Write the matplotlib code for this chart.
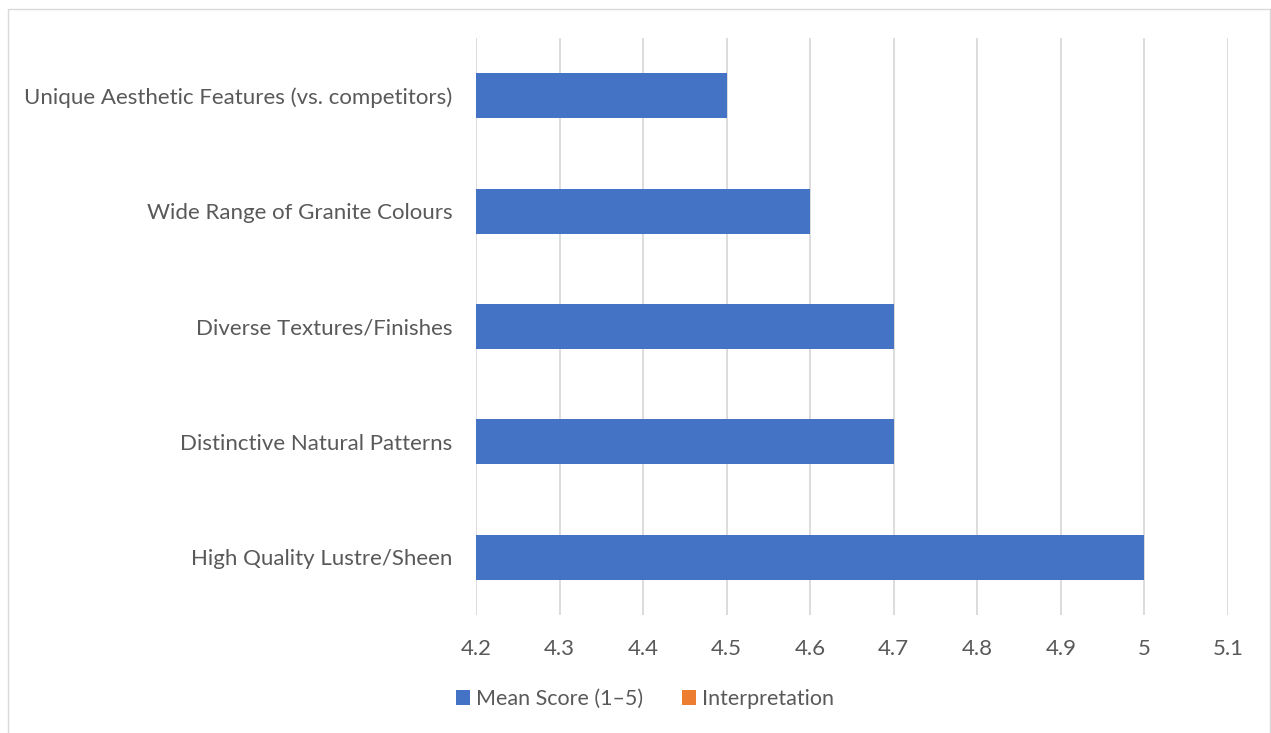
import matplotlib.pyplot as plt
from matplotlib.patches import Patch, Rectangle

categories = [
    "High Quality Lustre/Sheen",
    "Distinctive Natural Patterns",
    "Diverse Textures/Finishes",
    "Wide Range of Granite Colours",
    "Unique Aesthetic Features (vs. competitors)",
]
mean_scores = [5.0, 4.7, 4.7, 4.6, 4.5]
x_ticks = [4.2, 4.3, 4.4, 4.5, 4.6, 4.7, 4.8, 4.9, 5.0, 5.1]
x_tick_labels = ["4.2", "4.3", "4.4", "4.5", "4.6", "4.7", "4.8", "4.9", "5", "5.1"]
legend_labels = ["Mean Score (1\u20135)", "Interpretation"]

BLUE = "#4472C4"
ORANGE = "#ED7D31"
TEXT = "#595959"
GRID = "#D9D9D9"

plt.rcParams["font.family"] = ["Lato", "DejaVu Sans"]

W, H = 1271, 733
fig = plt.figure(figsize=(W / 100, H / 100), dpi=100)
ax = fig.add_axes([476 / W, 1 - 615 / H, (1228 - 476) / W, (615 - 38) / H])

ypos = list(range(len(categories)))
ax.barh(ypos, [v - x_ticks[0] for v in mean_scores], left=x_ticks[0], height=0.39, color=BLUE, zorder=3)

ax.set_xlim(x_ticks[0], x_ticks[-1])
ax.set_ylim(-0.5, len(categories) - 0.5)
ax.set_xticks(x_ticks)
ax.set_xticklabels(x_tick_labels)
ax.set_yticks(ypos)
ax.set_yticklabels(categories)
ax.tick_params(axis="both", length=0, labelsize=16, labelcolor=TEXT)
ax.tick_params(axis="x", pad=17)
ax.tick_params(axis="y", pad=17)
ax.grid(axis="x", color=GRID, linewidth=1.3, zorder=0)
for side in ax.spines.values():
    side.set_visible(False)

handles = [Patch(facecolor=BLUE), Patch(facecolor=ORANGE)]
fig.legend(handles, legend_labels, loc="center", bbox_to_anchor=(645 / W, 1 - 699 / H),
           ncol=2, frameon=False, fontsize=15.5, labelcolor=TEXT,
           handlelength=0.65, handleheight=0.65, handletextpad=0.3, columnspacing=1.8)

# thin outer border around the chart area
fig.patches.append(Rectangle((8 / W, -0.01), (1270 - 8) / W, 1 - 9 / H + 0.01,
                             transform=fig.transFigure, fill=False, edgecolor=GRID, linewidth=1))

fig.savefig("out.png", dpi=100)
